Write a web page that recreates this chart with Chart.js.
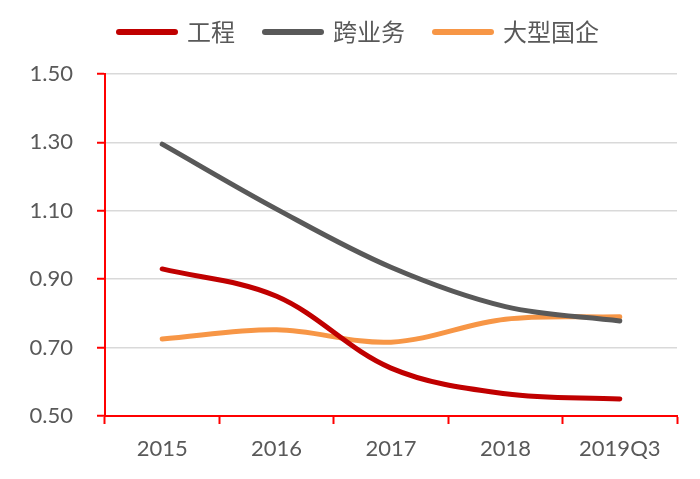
<!DOCTYPE html>
<html>
<head>
<meta charset="utf-8">
<script src="https://cdn.jsdelivr.net/npm/chart.js@4"></script>
<style>
html,body{margin:0;padding:0;background:#fff;}
#wrap{width:700px;height:479px;position:relative;}
</style>
</head>
<body>
<div id="wrap"><canvas id="c"></canvas></div>
<script>
const categories = ['2015', '2016', '2017', '2018', '2019Q3'];
const seriesNames = ['工程', '跨业务', '大型国企'];
const engineering = [0.93, 0.85, 0.64, 0.565, 0.55];
const crossBusiness = [1.295, 1.105, 0.935, 0.82, 0.778];
const largeSOE = [0.725, 0.752, 0.716, 0.783, 0.79];
const yTicks = [0.50, 0.70, 0.90, 1.10, 1.30, 1.50];

const colors = ['#C00000', '#595959', '#F79646'];
const axisRed = '#FF0000';

const legendPlugin = {
  id: 'legendTweak',
  beforeInit(chart) {
    const fit = chart.legend.fit;
    chart.legend.fit = function () {
      fit.bind(chart.legend)();
      this.height = 74;
    };
  },
  afterLayout(chart) {
    const lg = chart.legend;
    lg.top = -10;
    lg.left = 718 - lg.right;
  }
};

function mkDataset(label, data, color) {
  return {
    label, data,
    borderColor: color,
    backgroundColor: color,
    borderWidth: 5,
    borderCapStyle: 'round',
    borderJoinStyle: 'round',
    pointRadius: 0,
    pointHoverRadius: 0,
    tension: 0.35,
    fill: false
  };
}

new Chart(document.getElementById('c'), {
  type: 'line',
  data: {
    labels: categories,
    datasets: [
      mkDataset(seriesNames[0], engineering, colors[0]),
      mkDataset(seriesNames[1], crossBusiness, colors[1]),
      mkDataset(seriesNames[2], largeSOE, colors[2])
    ]
  },
  options: {
    responsive: true,
    maintainAspectRatio: false,
    animation: false,
    layout: { padding: { left: 0, right: 23, top: 0, bottom: 0 } },
    plugins: {
      tooltip: { enabled: false },
      legend: {
        position: 'top',
        labels: {
          usePointStyle: true,
          pointStyle: 'line',
          pointStyleWidth: 56,
          boxWidth: 56,
          padding: 30,
          color: '#595959',
          font: { family: '"Noto Sans CJK SC", sans-serif', size: 24 },
          generateLabels(chart) {
            const items = Chart.defaults.plugins.legend.labels.generateLabels(chart);
            items.forEach(it => {
              const c = chart.data.datasets[it.datasetIndex].borderColor;
              it.strokeStyle = c;
              it.fillStyle = c;
              it.lineWidth = 6;
              it.lineCap = 'round';
              it.pointStyle = 'line';
              it.fontColor = '#595959';
            });
            return items;
          }
        }
      }
    },
    scales: {
      x: {
        offset: true,
        grid: {
          display: true,
          drawOnChartArea: false,
          drawTicks: true,
          tickLength: 8,
          tickColor: axisRed,
          tickWidth: 2,
          offset: true
        },
        border: { display: true, color: axisRed, width: 2 },
        ticks: {
          color: '#595959',
          padding: 12,
          font: { family: 'Lato, "Open Sans", sans-serif', size: 22 }
        },
        afterFit(scale) { scale.height = 63; }
      },
      y: {
        min: 0.5,
        max: 1.5,
        afterBuildTicks(scale) { scale.ticks = yTicks.map(v => ({ value: v })); },
        grid: {
          color: '#D9D9D9',
          lineWidth: 1.5,
          drawTicks: true,
          tickLength: 8,
          tickColor: axisRed,
          tickWidth: 2
        },
        border: { display: true, color: axisRed, width: 2 },
        ticks: {
          color: '#595959',
          padding: 24,
          font: { family: 'Lato, "Open Sans", sans-serif', size: 22 },
          callback: v => Number(v).toFixed(2)
        },
        afterFit(scale) { scale.width = 105; }
      }
    }
  },
  plugins: [legendPlugin]
});
</script>
</body>
</html>
